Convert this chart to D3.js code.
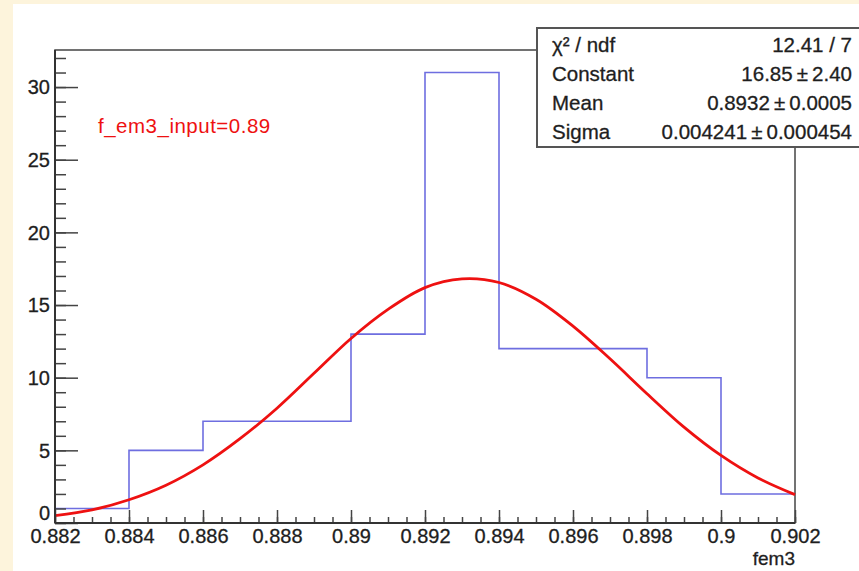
<!DOCTYPE html>
<html>
<head>
<meta charset="utf-8">
<script src="https://cdn.jsdelivr.net/npm/d3@7"></script>
<style>
  body { margin: 0; background: #fdf4dc; }
  text { font-family: "Liberation Sans", Arial, sans-serif; }
</style>
</head>
<body>
<div id="chart"></div>
<script>
// histogram of fem3 (bin edges + counts)
var binEdges = [0.882, 0.884, 0.886, 0.888, 0.890, 0.892, 0.894, 0.896, 0.898, 0.900, 0.902];
var binCounts = [1, 5, 7, 7, 13, 31, 12, 12, 10, 2];

// gaussian fit curve
var fitX = [0.882, 0.883, 0.884, 0.885, 0.886, 0.887, 0.888, 0.889, 0.890, 0.891, 0.892,
            0.893, 0.894, 0.895, 0.896, 0.897, 0.898, 0.899, 0.900, 0.901, 0.902];
var fitY = [0.5, 0.9, 1.6, 2.6, 4.0, 5.8, 7.9, 10.3, 12.7, 14.7, 16.2,
            16.8, 16.55, 15.4, 13.55, 11.3, 8.9, 6.6, 4.65, 3.1, 1.95];

var xTicks = [0.882, 0.884, 0.886, 0.888, 0.89, 0.892, 0.894, 0.896, 0.898, 0.9, 0.902];
var yTicks = [0, 5, 10, 15, 20, 25, 30];

var statNames = ["\u03c7\u00b2 / ndf", "Constant", "Mean", "Sigma"];
var statValues = ["12.41 / 7", "16.85\u2009\u00b1\u20092.40", "0.8932\u2009\u00b1\u20090.0005", "0.004241\u2009\u00b1\u20090.000454"];

var W = 859, H = 571;
var frame = { left: 55, right: 795, top: 50, bottom: 523 };
var ink = "#1e1e1e";

var svg = d3.select("#chart").append("svg")
    .attr("width", W)
    .attr("height", H);

svg.append("rect").attr("width", W).attr("height", H).attr("fill", "#fdf4dc");
svg.append("rect").attr("x", 13).attr("y", 4).attr("width", W - 13).attr("height", H - 4).attr("fill", "#ffffff");

var scalex = d3.scaleLinear().domain([0.882, 0.902]).range([frame.left, frame.right]);
var scaley = d3.scaleLinear().domain([0, 32.55]).range([frame.bottom, frame.top]);

// frame
svg.append("rect")
    .attr("x", frame.left).attr("y", frame.top)
    .attr("width", frame.right - frame.left).attr("height", frame.bottom - frame.top)
    .attr("fill", "none").attr("stroke", "#444").attr("stroke-width", 1.5);

// histogram outline
var histPts = binCounts.map(function (c, i) { return [binEdges[i], c]; });
histPts.push([binEdges[binEdges.length - 1], binCounts[binCounts.length - 1]]);

var histLine = d3.line()
    .x(function (d) { return scalex(d[0]); })
    .y(function (d) { return scaley(d[1]); })
    .curve(d3.curveStepAfter);

svg.append("path")
    .datum(histPts)
    .attr("d", histLine)
    .attr("fill", "none")
    .attr("stroke", "#6e6ee0")
    .attr("stroke-width", 1.6);

// fit curve
var fitLine = d3.line()
    .x(function (d, i) { return scalex(fitX[i]); })
    .y(function (d) { return scaley(d); })
    .curve(d3.curveCatmullRom);

svg.append("path")
    .datum(fitY)
    .attr("d", fitLine)
    .attr("fill", "none")
    .attr("stroke", "#ee1111")
    .attr("stroke-width", 2.8);

// y axis: minor then major ticks, drawn inward
var yMinor = d3.range(0, 33, 1);
svg.append("g")
    .attr("transform", "translate(" + frame.left + ",0)")
    .call(d3.axisLeft(scaley).tickValues(yMinor).tickSize(-11).tickFormat(""))
    .call(function (g) { g.select(".domain").remove(); });

var yAxis = svg.append("g")
    .attr("transform", "translate(" + frame.left + ",0)")
    .call(d3.axisLeft(scaley).tickValues(yTicks).tickSize(-23).tickPadding(5).tickFormat(d3.format("d")));
yAxis.select(".domain").remove();
yAxis.selectAll("text").attr("font-size", 20)
    .attr("dy", function (d) { return d === 0 ? "-0.2em" : "0.34em"; });

// x axis: ticks drawn upward
var xMinor = d3.range(0, 41).map(function (i) { return 0.882 + i * 0.0005; });
svg.append("g")
    .attr("transform", "translate(0," + frame.bottom + ")")
    .call(d3.axisBottom(scalex).tickValues(xMinor).tickSize(-6).tickFormat(""))
    .call(function (g) { g.select(".domain").remove(); });

var xAxis = svg.append("g")
    .attr("transform", "translate(0," + frame.bottom + ")")
    .call(d3.axisBottom(scalex).tickValues(xTicks).tickSize(-13).tickPadding(6).tickFormat(d3.format("")));
xAxis.select(".domain").remove();
xAxis.selectAll("text").attr("font-size", 20);

svg.selectAll(".tick text").attr("fill", ink).attr("stroke", ink).attr("stroke-width", 0.3);
svg.selectAll(".tick line").attr("stroke", "#444").attr("stroke-width", 1.5);

// axis lines on top
svg.append("line").attr("x1", frame.left).attr("x2", frame.left)
    .attr("y1", frame.top).attr("y2", frame.bottom)
    .attr("stroke", "#333").attr("stroke-width", 2);
svg.append("line").attr("x1", frame.left).attr("x2", frame.right)
    .attr("y1", frame.bottom).attr("y2", frame.bottom)
    .attr("stroke", "#333").attr("stroke-width", 2);

svg.append("text")
    .attr("x", frame.right).attr("y", 565)
    .attr("text-anchor", "end")
    .attr("font-size", 19)
    .attr("fill", ink).attr("stroke", ink).attr("stroke-width", 0.3)
    .text("fem3");

// red label
svg.append("text")
    .attr("x", 98).attr("y", 133)
    .attr("font-size", 20.5)
    .attr("letter-spacing", 0.5)
    .attr("fill", "#ee1111")
    .text("f_em3_input=0.89");

// stats box
var box = svg.append("g");
box.append("rect")
    .attr("x", 537).attr("y", 28).attr("width", 340).attr("height", 119)
    .attr("fill", "#ffffff").attr("stroke", "#555").attr("stroke-width", 2);

box.selectAll("text.name")
    .data(statNames)
    .enter().append("text")
    .attr("class", "name")
    .attr("x", 552)
    .attr("y", function (d, i) { return 52 + i * 29; })
    .attr("font-size", 20.5)
    .attr("fill", ink).attr("stroke", ink).attr("stroke-width", 0.3)
    .text(function (d) { return d; });

box.selectAll("text.val")
    .data(statValues)
    .enter().append("text")
    .attr("class", "val")
    .attr("x", 852)
    .attr("y", function (d, i) { return 52 + i * 29; })
    .attr("text-anchor", "end")
    .attr("font-size", 20.5)
    .attr("fill", ink).attr("stroke", ink).attr("stroke-width", 0.3)
    .text(function (d) { return d; });
</script>
</body>
</html>
